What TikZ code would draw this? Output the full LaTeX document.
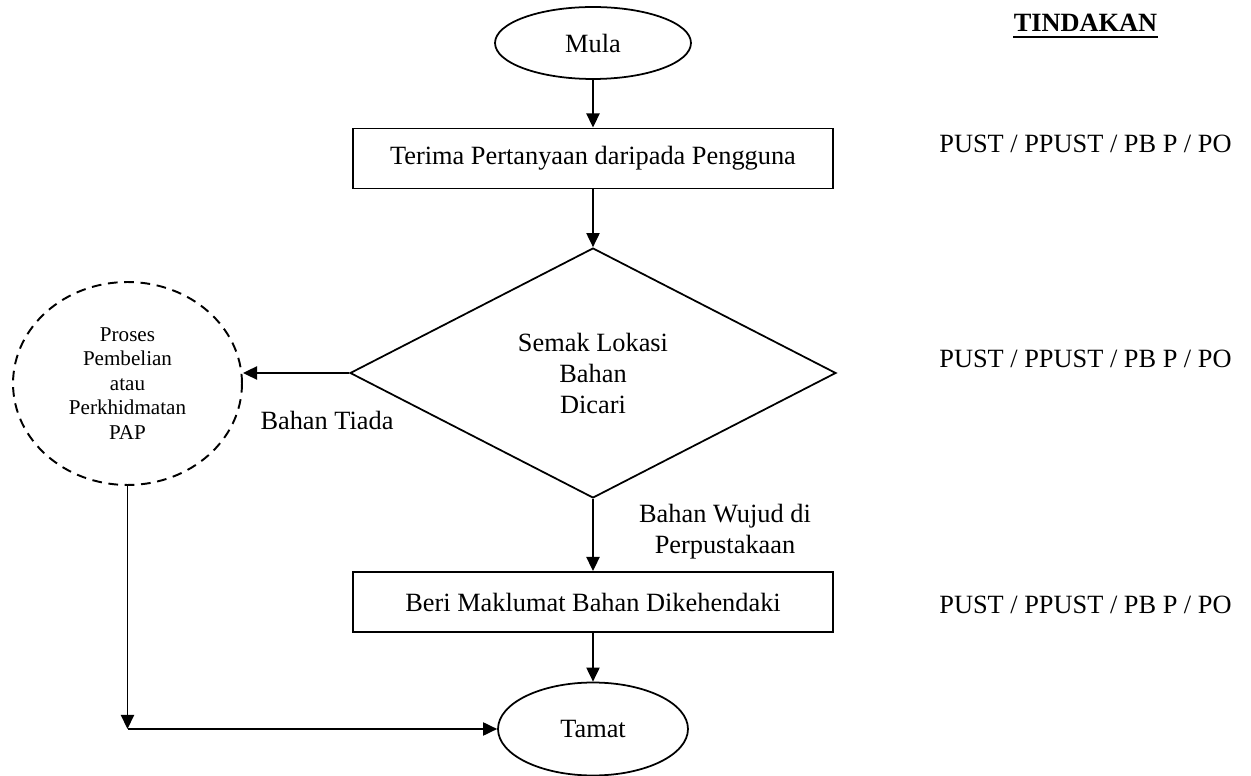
\documentclass[tikz,border=0pt]{standalone}
\usepackage{fontspec}
\setmainfont{Liberation Serif}
\usetikzlibrary{shapes.geometric, arrows.meta}
\tikzstyle{terminal} = [ellipse, draw, line width=1pt, inner sep=0pt]
\tikzstyle{block} = [rectangle, draw, line width=1.1pt, minimum width=9.62cm, minimum height=1.2cm]
\tikzstyle{decision} = [diamond, draw, line width=1pt, align=center, minimum width=9.72cm, minimum height=5cm, inner sep=0pt]
\tikzstyle{outside} = [ellipse, draw, line width=1.1pt, dash pattern=on 5.5pt off 3.8pt, align=center, inner sep=0pt, font=\fontsize{12}{13.9}\selectfont]
\tikzstyle{arrow} = [line width=0.9pt, -{Triangle[length=8pt,width=7.5pt]}]
\tikzstyle{sidetext} = [anchor=base, inner sep=0pt]

\begin{document}
\begin{tikzpicture}[x=0.02cm, y=-0.02cm, font=\fontsize{15}{17.64}\selectfont]
\useasboundingbox (0,0) rectangle (1251,776);

% Nodes
\node (mula) [terminal, minimum width=3.92cm, minimum height=1.44cm] at (593,43) {Mula};
\node (terima) [block] at (593,158.5) {Terima Pertanyaan daripada Pengguna};
\node (semak) [decision] at (593,373) {Semak Lokasi\\Bahan\\Dicari};
\node (proses) [outside, minimum width=4.58cm, minimum height=4.06cm] at (127.5,383.5) {Proses\\Pembelian\\atau\\Perkhidmatan\\PAP};
\node (beri) [block] at (593,602) {Beri Maklumat Bahan Dikehendaki};
\node (tamat) [terminal, minimum width=3.8cm, minimum height=1.86cm] at (593,729) {Tamat};
\coordinate (bawah) at (proses.south |- tamat.west);

% Labels
\node (tiada) [sidetext] at (327,430) {Bahan Tiada};
\node (wujud) [align=center, inner sep=0pt] at (725,531.5) {Bahan Wujud di\\Perpustakaan};
\node (tindakan) [sidetext] at (1085.5,32) {\textbf{TINDAKAN}};
\draw [line width=1.2pt] ([yshift=-2.6pt]tindakan.base west) -- ([yshift=-2.6pt]tindakan.base east);
\node (pic1) [sidetext] at (1085.5,153) {PUST / PPUST / PB P / PO};
\node (pic2) [sidetext] at (1085.5,368) {PUST / PPUST / PB P / PO};
\node (pic3) [sidetext] at (1085.5,613) {PUST / PPUST / PB P / PO};

% Arrows
\draw [arrow] (mula) -- (terima);
\draw [arrow] (terima) -- (semak);
\draw [arrow] (semak.west) -- (semak.west -| proses.east);
\draw [arrow] (semak) -- (beri);
\draw [arrow] (beri) -- (tamat);
\draw [arrow] (proses) -- (bawah);
\draw [arrow] (bawah) -- (tamat);

\end{tikzpicture}
\end{document}
